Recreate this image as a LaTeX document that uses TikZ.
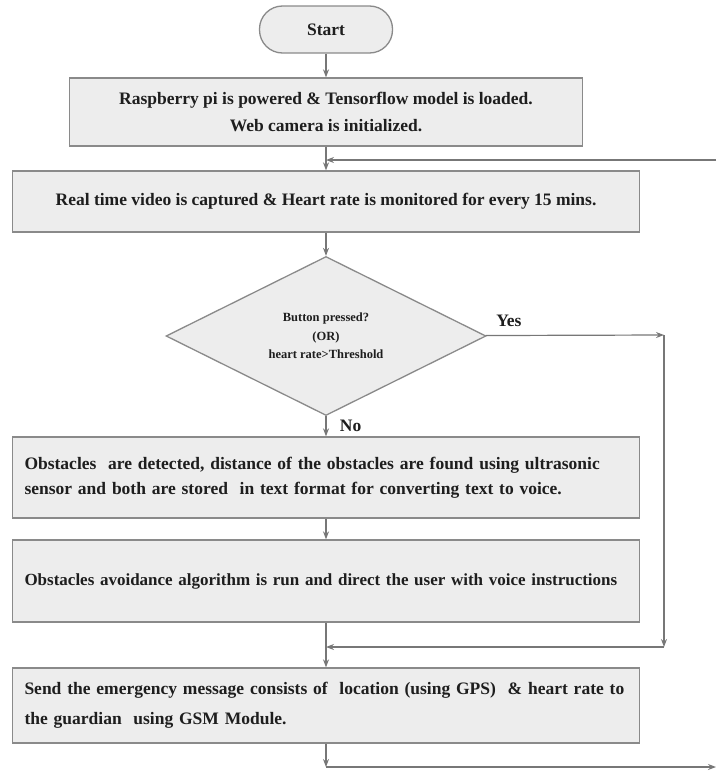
\documentclass[tikz,border=0pt]{standalone}
\usepackage{fontspec}
\setmainfont{Liberation Serif}
\usetikzlibrary{shapes.geometric, arrows, arrows.meta, positioning}
\definecolor{boxfill}{HTML}{EDEDED}
\definecolor{boxline}{HTML}{8A8A8A}
\definecolor{flowline}{HTML}{777777}
\definecolor{inktext}{HTML}{1E1E1E}
\tikzstyle{startstop} = [rectangle, rounded corners=23pt, minimum width=133pt, minimum height=47pt, text centered, draw=boxline, fill=boxfill, line width=1.3pt, text=inktext, font=\bfseries\fontsize{17.5}{21}\selectfont]
\tikzstyle{process} = [rectangle, minimum width=627pt, draw=boxline, fill=boxfill, line width=1.3pt, text=inktext, font=\bfseries\fontsize{17.5}{21}\selectfont]
\tikzstyle{decision} = [diamond, aspect=2, minimum width=320pt, minimum height=159pt, inner sep=0pt, align=center, draw=boxline, fill=boxfill, line width=1.3pt, text=inktext, font=\bfseries\fontsize{12.5}{18.5}\selectfont]
\tikzstyle{arrow} = [line width=1.2pt, draw=flowline, ->, >={Stealth[length=8pt, width=6pt]}]
\tikzstyle{flowlabel} = [text=inktext, font=\bfseries\fontsize{17.5}{21}\selectfont]

\begin{document}
\begin{tikzpicture}[x=1pt, y=-1pt]
        \useasboundingbox (0,0) rectangle (716,771);

        % Steps
        \node (start) [startstop] at (326,29.5) {Start};
        \node (init) [process, minimum width=513pt, minimum height=68pt, align=center] at (326,112) {Raspberry pi is powered \& Tensorflow model is loaded.\\[6pt] Web camera is initialized.};
        \node (capture) [process, minimum height=61pt] at (326,201.5) {Real time video is captured \& Heart rate is monitored for every 15 mins.};
        \node (check) [decision] at (326,336) {Button pressed?\\(OR)\\heart rate>Threshold};
        \node (detect) [process, minimum height=81pt, text width=603pt, align=left] at (326,477.5) {Obstacles\ \ are detected, distance of the obstacles are found using ultrasonic\\[4pt] sensor and both are stored\ \ in text format for converting text to voice.};
        \node (avoid) [process, minimum height=82pt, text width=603pt, align=left, font=\bfseries\fontsize{17}{21}\selectfont] at (326,581) {\makebox[603pt][l]{Obstacles avoidance algorithm is run and direct the user with voice instructions}};
        \node (alert) [process, minimum height=75pt, text width=603pt, align=left] at (326,705.5) {Send the emergency message consists of\ \ location (using GPS)\ \ \& heart rate to\\[9pt] the guardian\ \ using GSM Module.};

        % Loop ends
        \coordinate (loopin) at (716,160);
        \coordinate (yesturn) at (664,335);
        \coordinate (yesback) at (664,647);
        \coordinate (loopout) at (716,767);

        % Flow
        \draw [arrow] (start) -- (init);
        \draw [arrow] (init) -- (capture);
        \draw [arrow] (loopin) -- (init.south |- loopin);
        \draw [arrow] (capture) -- (check);
        \draw [arrow] (check) -- node[right=10pt, flowlabel] {No} (detect);
        \draw [arrow] (check) -- node[pos=0.13, above=5pt, flowlabel] {Yes} (yesturn);
        \draw [arrow] (yesturn) -- (yesback);
        \draw [arrow] (yesback) -- (avoid.south |- yesback);
        \draw [arrow] (detect) -- (avoid);
        \draw [arrow] (avoid) -- (alert);
        \draw [arrow] (alert) -- (alert.south |- loopout);
        \draw [arrow] (alert.south |- loopout) -- (loopout);
    \end{tikzpicture}
\end{document}
